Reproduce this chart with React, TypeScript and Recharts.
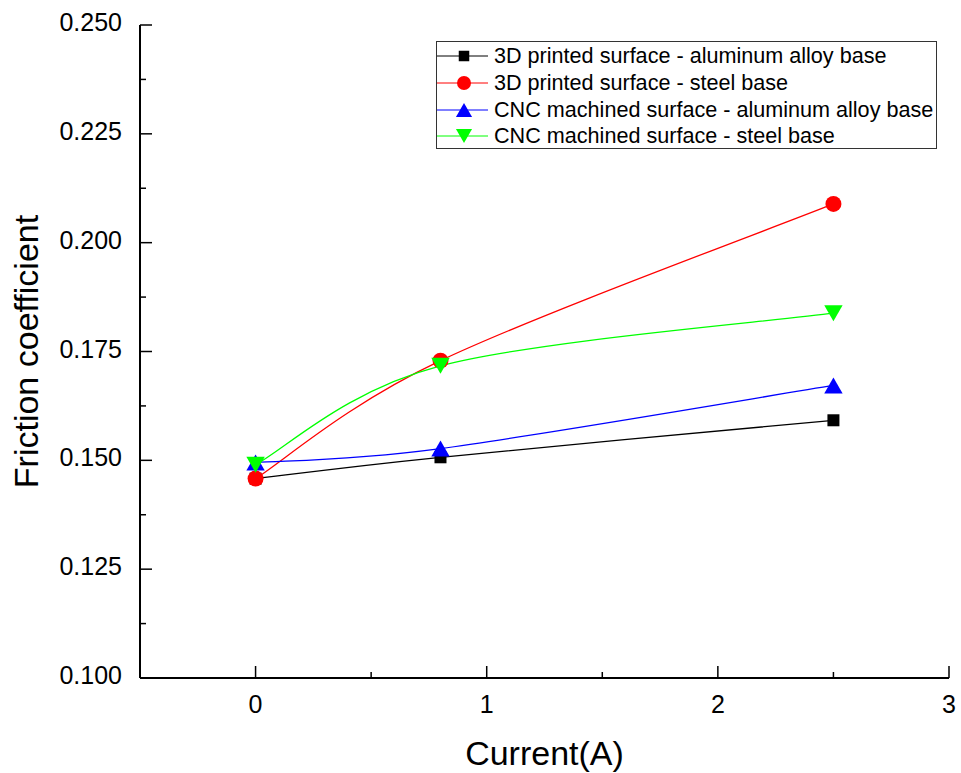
import { LineChart, Line, XAxis, YAxis, Label } from "recharts"

const currents = [0, 0.8, 2.5]
const printedAluminum = [0.1458, 0.1507, 0.1592]
const printedSteel = [0.1458, 0.1729, 0.2089]
const cncAluminum = [0.1495, 0.1527, 0.1672]
const cncSteel = [0.149, 0.1717, 0.1838]

const xTicks = [0, 0.5, 1, 1.5, 2, 2.5, 3]
const yTicks = [0.1, 0.1125, 0.125, 0.1375, 0.15, 0.1625, 0.175, 0.1875, 0.2, 0.2125, 0.225, 0.2375, 0.25]

const FONT = "'Liberation Sans', Arial, sans-serif"

const data = currents.map((x, i) => ({
  x,
  printedAl: printedAluminum[i],
  printedSteel: printedSteel[i],
  cncAl: cncAluminum[i],
  cncSteel: cncSteel[i],
}))

type Shape = "square" | "circle" | "up" | "down"

const series: { key: string; name: string; color: string; shape: Shape }[] = [
  { key: "printedAl", name: "3D printed surface - aluminum alloy base", color: "#000000", shape: "square" },
  { key: "printedSteel", name: "3D printed surface - steel base", color: "#ff0000", shape: "circle" },
  { key: "cncAl", name: "CNC machined surface - aluminum alloy base", color: "#0000ff", shape: "up" },
  { key: "cncSteel", name: "CNC machined surface - steel base", color: "#00ff00", shape: "down" },
]

// uniform Catmull-Rom through the points (closer to Origin's spline than d3's built-ins)
const catmullRom = (context: any) => {
  let pts: number[][] = []
  return {
    areaStart() {},
    areaEnd() {},
    lineStart() {
      pts = []
    },
    point(x: number, y: number) {
      pts.push([+x, +y])
    },
    lineEnd() {
      const n = pts.length
      if (!n) return
      context.moveTo(pts[0][0], pts[0][1])
      for (let i = 0; i < n - 1; i++) {
        const p0 = pts[Math.max(i - 1, 0)]
        const p1 = pts[i]
        const p2 = pts[i + 1]
        const p3 = pts[Math.min(i + 2, n - 1)]
        context.bezierCurveTo(
          p1[0] + (p2[0] - p0[0]) / 6,
          p1[1] + (p2[1] - p0[1]) / 6,
          p2[0] - (p3[0] - p1[0]) / 6,
          p2[1] - (p3[1] - p1[1]) / 6,
          p2[0],
          p2[1]
        )
      }
    },
  }
}

function Marker({ cx, cy, shape, color, size }: { cx: number; cy: number; shape: Shape; color: string; size: number }) {
  if (shape === "square") {
    const s = size * 0.75
    return <rect x={cx - s / 2} y={cy - s / 2} width={s} height={s} fill={color} />
  }
  if (shape === "circle") {
    return <circle cx={cx} cy={cy} r={size / 2} fill={color} />
  }
  const w = size * 1.15
  const h = size
  if (shape === "up") {
    return <polygon points={`${cx - w / 2},${cy + h / 2} ${cx + w / 2},${cy + h / 2} ${cx},${cy - h / 2}`} fill={color} />
  }
  return <polygon points={`${cx - w / 2},${cy - h / 2} ${cx + w / 2},${cy - h / 2} ${cx},${cy + h / 2}`} fill={color} />
}

const isMajor = (v: number, step: number) => Math.abs(v / step - Math.round(v / step)) < 1e-6

// ticks point into the plot, labels sit outside
const XTick = (props: any) => {
  const { x, y, payload } = props
  const major = isMajor(payload.value, 1)
  return (
    <g>
      <line x1={x} x2={x} y1={y} y2={y - (major ? 12 : 6)} stroke="#000" strokeWidth={1.5} />
      {major && (
        <text x={x} y={y + 35} textAnchor="middle" fontSize={25} fontFamily={FONT} fill="#000">
          {payload.value}
        </text>
      )}
    </g>
  )
}

const YTick = (props: any) => {
  const { x, y, payload } = props
  const major = isMajor(payload.value, 0.025)
  return (
    <g>
      <line x1={x} x2={x + (major ? 12 : 6)} y1={y} y2={y} stroke="#000" strokeWidth={1.5} />
      {major && (
        <text x={x - 18} y={y + 6} textAnchor="end" fontSize={25} fontFamily={FONT} fill="#000">
          {payload.value.toFixed(3)}
        </text>
      )}
    </g>
  )
}

function ChartLegend() {
  return (
    <div
      style={{
        position: "absolute",
        left: 436,
        top: 41,
        width: 501,
        height: 108,
        border: "1px solid #333",
        boxSizing: "border-box",
        background: "#fff",
        paddingTop: 1,
      }}
    >
      {series.map((s) => (
        <div key={s.key} style={{ display: "flex", alignItems: "center", height: 26.7 }}>
          <svg width={57} height={24} style={{ flex: "none" }}>
            <line x1={0} x2={51} y1={12} y2={12} stroke={s.color} strokeWidth={1} />
            <Marker cx={27} cy={12} shape={s.shape} color={s.color} size={14} />
          </svg>
          <span style={{ fontFamily: FONT, fontSize: 21.6, color: "#000", whiteSpace: "nowrap" }}>{s.name}</span>
        </div>
      ))}
    </div>
  )
}

export default function App() {
  return (
    <div style={{ position: "absolute", left: 0, top: 0, width: 961, height: 773, background: "#fff" }}>
      <LineChart width={961} height={773} data={data} margin={{ top: 25, right: 12, bottom: 0, left: 0 }}>
        <XAxis
          dataKey="x"
          type="number"
          domain={[-0.5, 3]}
          ticks={xTicks}
          interval={0}
          tickLine={false}
          tickSize={0}
          tickMargin={0}
          tick={<XTick />}
          height={95}
          axisLine={{ stroke: "#000", strokeWidth: 2 }}
          allowDataOverflow
        >
          <Label
            content={(p: any) => {
              const vb = p.viewBox
              return (
                <text x={vb.x + vb.width / 2} y={vb.y + 87} textAnchor="middle" fontSize={34} fontFamily={FONT} fill="#000">
                  Current(A)
                </text>
              )
            }}
          />
        </XAxis>
        <XAxis
          xAxisId="top"
          orientation="top"
          type="number"
          domain={[-0.5, 3]}
          height={0}
          tick={false}
          tickLine={false}
          axisLine={{ stroke: "#000", strokeWidth: 2 }}
        />
        <YAxis
          type="number"
          domain={[0.1, 0.25]}
          ticks={yTicks}
          interval={0}
          tickLine={false}
          tickSize={0}
          tickMargin={0}
          tick={<YTick />}
          width={140}
          axisLine={{ stroke: "#000", strokeWidth: 2 }}
          allowDataOverflow
        >
          <Label
            content={(p: any) => {
              const vb = p.viewBox
              const cx = vb.x + 38
              const cy = vb.y + vb.height / 2
              return (
                <text x={cx} y={cy} transform={`rotate(-90 ${cx} ${cy})`} textAnchor="middle" fontSize={34} fontFamily={FONT} fill="#000">
                  Friction coefficient
                </text>
              )
            }}
          />
        </YAxis>
        <YAxis
          yAxisId="right"
          orientation="right"
          type="number"
          domain={[0.1, 0.25]}
          width={0}
          tick={false}
          tickLine={false}
          axisLine={{ stroke: "#000", strokeWidth: 2 }}
        />
        {series.map((s) => (
          <Line
            key={s.key}
            dataKey={s.key}
            name={s.name}
            type={catmullRom as any}
            stroke={s.color}
            strokeWidth={1.3}
            isAnimationActive={false}
            dot={(p: any) => (
              <Marker key={`${s.key}-${p.index}`} cx={p.cx} cy={p.cy} shape={s.shape} color={s.color} size={16} />
            )}
            activeDot={false}
          />
        ))}
      </LineChart>
      <ChartLegend />
    </div>
  )
}
